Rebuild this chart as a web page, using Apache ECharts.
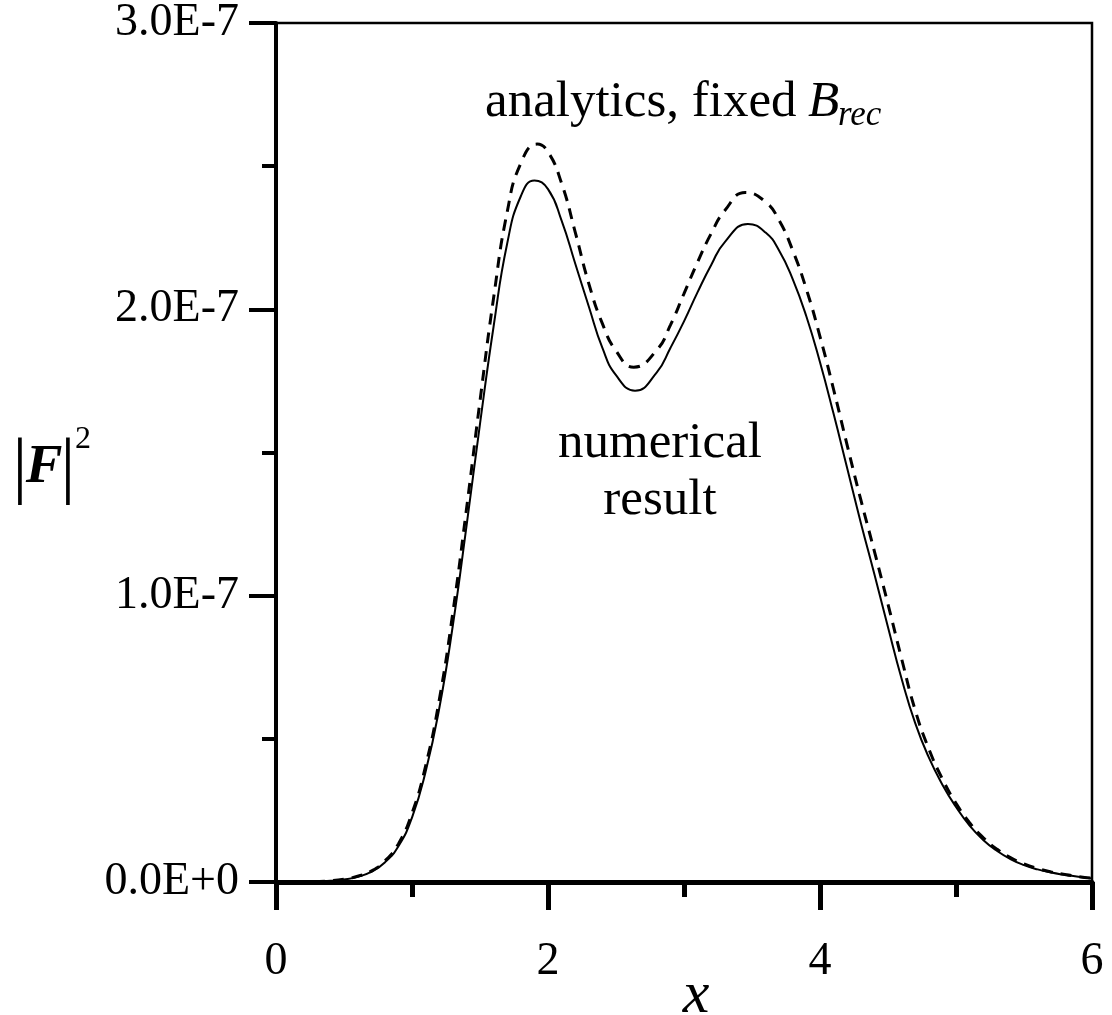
<!DOCTYPE html>
<html><head><meta charset="utf-8">
<script src="https://cdn.jsdelivr.net/npm/echarts@6/dist/echarts.min.js"></script>
<style>html,body{margin:0;padding:0;background:#fff}#c{width:1112px;height:1015px}</style>
</head><body><div id="c"></div>
<script>
// numerical result (solid): x positions and |F|^2 in units of 1E-7
const xNumerical = [0.0,0.1,0.2,0.3,0.4,0.5,0.6,0.7,0.8,0.9,1.0,1.1,1.2,1.3,1.4,1.5,1.6,1.7,1.8,1.9,2.0,2.1,2.2,2.3,2.4,2.5,2.64,2.8,2.9,3.0,3.1,3.2,3.3,3.47,3.6,3.7,3.8,3.9,4.0,4.1,4.2,4.3,4.4,4.5,4.6,4.7,4.8,4.9,5.0,5.1,5.2,5.3,5.4,5.5,5.6,5.7,5.8,5.9,6.0];
const numerical = [0.000,0.000,0.000,0.001,0.004,0.009,0.018,0.035,0.068,0.125,0.225,0.385,0.605,0.895,1.240,1.600,1.940,2.230,2.395,2.450,2.420,2.310,2.160,2.010,1.865,1.770,1.716,1.780,1.865,1.958,2.060,2.155,2.235,2.298,2.268,2.205,2.105,1.975,1.815,1.635,1.445,1.255,1.075,0.890,0.710,0.555,0.435,0.340,0.262,0.197,0.147,0.109,0.080,0.059,0.044,0.033,0.025,0.018,0.012];
// analytics, fixed B_rec (dashed): x positions and |F|^2 in units of 1E-7
const xAnalytics = [0.0,0.1,0.2,0.3,0.4,0.5,0.6,0.7,0.8,0.9,1.0,1.1,1.2,1.3,1.4,1.5,1.6,1.7,1.8,1.92,2.0,2.1,2.2,2.3,2.4,2.5,2.63,2.8,2.9,3.0,3.1,3.2,3.3,3.45,3.6,3.7,3.8,3.9,4.0,4.1,4.2,4.3,4.4,4.5,4.6,4.7,4.8,4.9,5.0,5.1,5.2,5.3,5.4,5.5,5.6,5.7,5.8,5.9,6.0];
const analytics = [0.000,0.000,0.000,0.001,0.004,0.010,0.020,0.038,0.073,0.133,0.240,0.405,0.635,0.940,1.300,1.680,2.040,2.340,2.510,2.577,2.550,2.440,2.270,2.090,1.950,1.855,1.798,1.858,1.945,2.055,2.165,2.265,2.345,2.408,2.375,2.310,2.205,2.070,1.905,1.720,1.525,1.335,1.155,0.970,0.780,0.600,0.465,0.360,0.275,0.207,0.155,0.115,0.085,0.063,0.047,0.035,0.026,0.019,0.013];
const xTickLabels = ['0','2','4','6'];
const yTickLabels = ['0.0E+0','1.0E-7','2.0E-7','3.0E-7'];

const serif = "'Liberation Serif','Times New Roman',serif";
const chart = echarts.init(document.getElementById('c'), null, {renderer:'canvas'});
const numData = xNumerical.map((x,i)=>[x, numerical[i]]);
const anaData = xAnalytics.map((x,i)=>[x, analytics[i]]);

chart.setOption({
  animation:false,
  backgroundColor:'#fff',
  grid:{left:276,right:20,top:22,bottom:133,show:true,borderColor:'#000',borderWidth:2.5,backgroundColor:'transparent'},
  xAxis:{type:'value',min:0,max:6,interval:2,
    axisLine:{show:true,onZero:false,lineStyle:{color:'#000',width:5}},
    axisTick:{show:true,length:28,lineStyle:{color:'#000',width:5}},
    minorTick:{show:true,splitNumber:2,length:15,lineStyle:{color:'#000',width:5}},
    splitLine:{show:false},
    axisLabel:{fontSize:46,fontFamily:serif,color:'#000',margin:57,
      formatter:v=>xTickLabels[Math.round(v/2)]}
  },
  yAxis:{type:'value',min:0,max:3,interval:1,
    axisLine:{show:true,lineStyle:{color:'#000',width:4}},
    axisTick:{show:true,length:27,lineStyle:{color:'#000',width:4}},
    minorTick:{show:true,splitNumber:2,length:14,lineStyle:{color:'#000',width:4}},
    splitLine:{show:false},
    axisLabel:{fontSize:46,fontFamily:serif,color:'#000',margin:37,
      formatter:v=>yTickLabels[Math.round(v)]}
  },
  series:[
    {type:'line',name:'numerical result',data:numData,smooth:0.5,showSymbol:false,
      lineStyle:{color:'#000',width:2,type:'solid'},z:3},
    {type:'line',name:'analytics, fixed Brec',data:anaData,smooth:0.5,showSymbol:false,
      lineStyle:{color:'#000',width:3,type:[11,8]},z:2}
  ],
  graphic:[
    {type:'text',x:485,y:103,style:{text:'analytics, fixed',font:'51px '+serif,fill:'#000',align:'left',verticalAlign:'middle'}},
    {type:'text',x:808,y:103,style:{text:'B',font:'italic 51px '+serif,fill:'#000',align:'left',verticalAlign:'middle'}},
    {type:'text',x:838,y:116,style:{text:'rec',font:'italic 35px '+serif,fill:'#000',align:'left',verticalAlign:'middle'}},
    {type:'text',x:660,y:444,style:{text:'numerical',font:'51px '+serif,fill:'#000',align:'center',verticalAlign:'middle'}},
    {type:'text',x:660,y:501,style:{text:'result',font:'51px '+serif,fill:'#000',align:'center',verticalAlign:'middle'}},
    {type:'text',x:696,y:996,style:{text:'x',font:'italic 60px '+serif,fill:'#000',align:'center',verticalAlign:'middle'}},
    {type:'text',x:20,y:470,style:{text:'|',font:'74px '+serif,fill:'#000',align:'center',verticalAlign:'middle'}},
    {type:'text',x:44,y:468,style:{text:'F',font:'italic bold 55px '+serif,fill:'#000',align:'center',verticalAlign:'middle'}},
    {type:'text',x:68,y:470,style:{text:'|',font:'74px '+serif,fill:'#000',align:'center',verticalAlign:'middle'}},
    {type:'text',x:83,y:440,style:{text:'2',font:'32px '+serif,fill:'#000',align:'center',verticalAlign:'middle'}}
  ]
});
</script></body></html>
